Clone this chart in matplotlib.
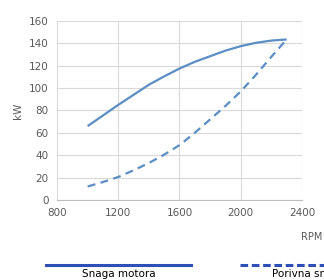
import matplotlib
matplotlib.use("Agg")
import matplotlib.pyplot as plt
from matplotlib.lines import Line2D

rpm = [1000, 1100, 1200, 1300, 1400, 1500, 1600, 1700, 1800, 1900, 2000, 2100, 2200, 2300]
snaga_motora = [66, 75.5, 85, 94, 103, 110.5, 117.5, 123.5, 128.5, 133.5, 137.5, 140.5, 142.5, 143.5]
porivna_snaga = [12, 16, 20.5, 26.5, 33, 40.5, 49, 60, 72, 84, 97, 112, 128, 143.5]
xticks = [800, 1200, 1600, 2000, 2400]
yticks = [0, 20, 40, 60, 80, 100, 120, 140, 160]

fig = plt.figure(figsize=(3.24, 2.8), dpi=100)
ax = fig.add_axes([0.176, 0.286, 0.756, 0.639])
col = '#5b8ec4'
ax.plot(rpm, snaga_motora, color=col, lw=1.6, solid_capstyle='butt')
ax.plot(rpm, porivna_snaga, color=col, lw=1.6, dashes=(3.6, 2.4))
ax.set_xlim(800, 2400)
ax.set_ylim(0, 160)
ax.set_xticks(xticks)
ax.set_yticks(yticks)
ax.grid(True, color='#d9d9d9', lw=0.8)
ax.set_axisbelow(True)
for s in ['top', 'right', 'left']:
    ax.spines[s].set_visible(False)
ax.spines['bottom'].set_color('#bfbfbf')
ax.tick_params(length=0, labelsize=7.5, colors='#595959', pad=6)
ax.set_ylabel('kW', fontsize=7.5, color='#595959', labelpad=4)
fig.text(0.963, 0.153, 'RPM', fontsize=7, color='#595959', ha='center', va='center')

lc = '#2e4fb8'
fig.add_artist(Line2D([0.142, 0.59], [0.054, 0.054], color=lc, lw=2.2, transform=fig.transFigure))
fig.add_artist(Line2D([0.74, 1.0], [0.054, 0.054], color=lc, lw=2.2, dashes=(2.5, 1.2), transform=fig.transFigure))
fig.text(0.366, 0.004, 'Snaga motora', fontsize=7.5, color='black', ha='center', va='bottom')
fig.text(0.84, 0.004, 'Porivna snaga', fontsize=7.5, color='black', ha='left', va='bottom')
fig.savefig('out.png', dpi=100)
